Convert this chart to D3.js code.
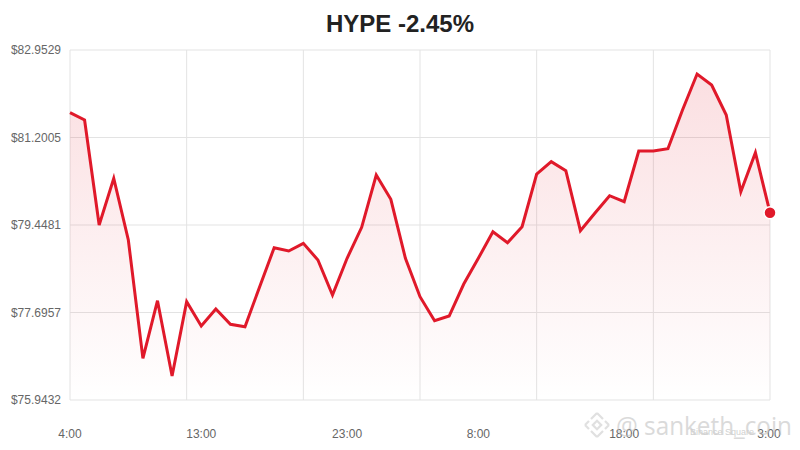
<!DOCTYPE html>
<html>
<head>
<meta charset="utf-8">
<script src="https://cdn.jsdelivr.net/npm/d3@7"></script>
<style>
  html, body { margin: 0; padding: 0; background: #fff; }
  svg { display: block; font-family: "Liberation Sans", Arial, sans-serif; }
</style>
</head>
<body>
<svg id="chart" width="800" height="450"></svg>
<script>
const title = "HYPE -2.45%";
const prices = [
  81.697, 81.551, 79.448, 80.383, 79.148, 76.778, 77.932, 76.424, 77.912, 77.425,
  77.766, 77.459, 77.411, 78.206, 78.993, 78.927, 79.081, 78.747, 78.046, 78.781,
  79.402, 80.449, 79.963, 78.781, 78.012, 77.531, 77.625, 78.266, 78.781, 79.314,
  79.093, 79.414, 80.469, 80.716, 80.535, 79.334, 79.688, 80.035, 79.915, 80.930,
  80.930, 80.976, 81.751, 82.472, 82.252, 81.651, 80.115, 80.896, 79.694
];
const yTicks = [75.9432, 77.6957, 79.4481, 81.2005, 82.9529];
const xTickIndex = [0, 9, 19, 28, 38, 48];
const xTickLabels = ["4:00", "13:00", "23:00", "8:00", "18:00", "3:00"];
const xGridIndex = [0, 8, 16, 24, 32, 40, 48];

const svg = d3.select("#chart");
const m = { left: 70, right: 30, top: 50, bottom: 50 };
const W = 800, H = 450;
const x = d3.scaleLinear().domain([0, prices.length - 1]).range([m.left, W - m.right]);
const y = d3.scaleLinear().domain([yTicks[0], yTicks[yTicks.length - 1]]).range([H - m.bottom, m.top]);

const defs = svg.append("defs");
const grad = defs.append("linearGradient").attr("id", "fillGrad")
  .attr("x1", 0).attr("y1", 0).attr("x2", 0).attr("y2", 1);
grad.append("stop").attr("offset", "0%").attr("stop-color", "#e0192a").attr("stop-opacity", 0.14);
grad.append("stop").attr("offset", "100%").attr("stop-color", "#e0192a").attr("stop-opacity", 0.0);

// grid
const grid = svg.append("g");
grid.selectAll("line.h").data(yTicks).enter().append("line")
  .attr("x1", m.left).attr("x2", W - m.right)
  .attr("y1", d => y(d)).attr("y2", d => y(d))
  .attr("stroke", "#e3e3e3").attr("stroke-width", 1);
grid.selectAll("line.v").data(xGridIndex).enter().append("line")
  .attr("x1", d => x(d)).attr("x2", d => x(d))
  .attr("y1", m.top).attr("y2", H - m.bottom)
  .attr("stroke", "#e3e3e3").attr("stroke-width", 1);

// area
const area = d3.area().x((d, i) => x(i)).y0(y(yTicks[0])).y1(d => y(d));
svg.append("path").datum(prices).attr("d", area).attr("fill", "url(#fillGrad)");

// line
const line = d3.line().x((d, i) => x(i)).y(d => y(d));
svg.append("path").datum(prices).attr("d", line)
  .attr("fill", "none").attr("stroke", "#e0192a").attr("stroke-width", 3)
  .attr("stroke-linejoin", "miter");

// end dot
const last = prices.length - 1;
svg.append("circle").attr("cx", x(last)).attr("cy", y(prices[last])).attr("r", 6)
  .attr("fill", "#e0192a").attr("stroke", "#fff").attr("stroke-width", 1.5);

// y labels
svg.append("g").selectAll("text").data(yTicks).enter().append("text")
  .attr("x", 61).attr("y", d => y(d)).attr("dy", "0.35em")
  .attr("text-anchor", "end").attr("font-size", 12).attr("fill", "#666")
  .text(d => "$" + d.toFixed(4));

// x labels
svg.append("g").selectAll("text").data(xTickIndex).enter().append("text")
  .attr("x", (d, i) => x(d) - (i === xTickIndex.length - 1 ? 1 : 0)).attr("y", 434).attr("dy", "0.35em")
  .attr("text-anchor", "middle").attr("font-size", 12).attr("fill", "#666")
  .text((d, i) => xTickLabels[i]);

// title
svg.append("text").attr("x", 400).attr("y", 32).attr("text-anchor", "middle")
  .attr("font-size", 24).attr("font-weight", "bold").attr("fill", "#222")
  .text(title);

// watermark
const wm = svg.append("g").attr("opacity", 0.55);
const lg = wm.append("g").attr("transform", "translate(597,425)").attr("fill", "none").attr("stroke", "#c8c8c8").attr("stroke-width", 2.2);
lg.append("path").attr("d", "M0,-12 L6,-6 M0,-12 L-6,-6 M-12,0 L-8,-4 M-12,0 L-8,4 M12,0 L8,-4 M12,0 L8,4 M0,12 L6,6 M0,12 L-6,6");
lg.append("rect").attr("x", -3).attr("y", -3).attr("width", 6).attr("height", 6).attr("transform", "rotate(45)");
wm.append("text").attr("x", 616).attr("y", 435).attr("font-size", 25).attr("fill", "#bdbdbd")
  .attr("font-family", "'Open Sans', 'DejaVu Sans', sans-serif")
  .attr("textLength", 176).attr("lengthAdjust", "spacingAndGlyphs")
  .text("@ sanketh_coin");
wm.append("text").attr("x", 690).attr("y", 435).attr("font-size", 9).attr("fill", "#aaa")
  .text("Binance Square");
</script>
</body>
</html>
